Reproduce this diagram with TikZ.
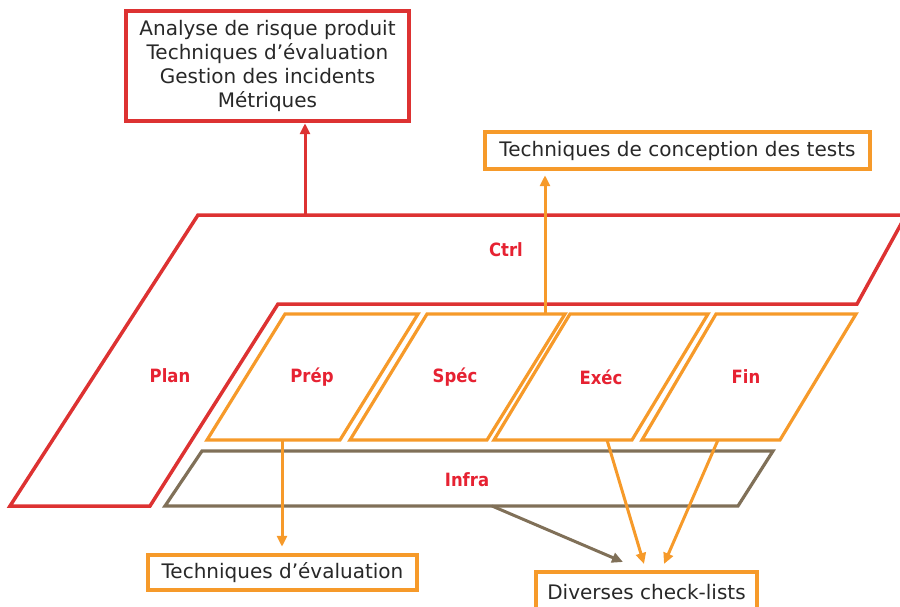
\documentclass[tikz,border=0pt]{standalone}
\usepackage{fontspec}
\setmainfont{DejaVu Sans}
\newfontfamily\lblfont{DejaVu Sans Condensed}
\usetikzlibrary{arrows.meta}
\definecolor{cred}{RGB}{221,50,50}
\definecolor{corange}{RGB}{246,154,42}
\definecolor{cbrown}{RGB}{128,112,88}
\definecolor{ctext}{RGB}{40,40,40}
\definecolor{clabel}{RGB}{230,34,50}
\tikzset{
  redshape/.style={draw=cred, line width=3.5pt, line join=miter},
  orshape/.style={draw=corange, line width=3.2pt, line join=miter},
  brshape/.style={draw=cbrown, line width=3.2pt, line join=miter},
  lbl/.style={text=clabel, font=\lblfont\bfseries\fontsize{18.3}{20}\selectfont, inner sep=0pt},
  infobox/.style={draw, line width=4.5pt, fill=white, text=ctext,
    font=\fontsize{20}{24}\selectfont, align=center, inner sep=0pt},
  arr/.style={line width=3pt, -{Triangle[length=11pt,width=10pt]}},
}
\begin{document}
\begin{tikzpicture}[x=1pt,y=-1pt]
\useasboundingbox (0,0) rectangle (900,607);
\clip (0,0) rectangle (900,607);

% big red frame (Plan + Ctrl)
\draw[redshape] (198,215) -- (906,215) -- (857,304) -- (278,304) -- (150,506) -- (10,506) -- cycle;
\node[lbl] (ctrl) at (506,250) {Ctrl};
\node[lbl] (plan) at (170,376) {Plan};

% orange phases
\draw[orshape] (285,314) -- (418,314) -- (340,440) -- (207,440) -- cycle;
\draw[orshape] (427,314) -- (565,314) -- (487,440) -- (350,440) -- cycle;
\draw[orshape] (570,314) -- (708,314) -- (632,440) -- (494,440) -- cycle;
\draw[orshape] (716,314) -- (856,314) -- (780,440) -- (642,440) -- cycle;
\node[lbl] (prep) at (312,377) {Prép};
\node[lbl] (spec) at (455,377) {Spéc};
\node[lbl] (exec) at (601,377) {Exéc};
\node[lbl] (fin) at (746,377) {Fin};

% infra
\draw[brshape] (202,451) -- (773,451) -- (738,506) -- (165,506) -- cycle;
\node[lbl] (infra) at (467,480) {Infra};

% boxes
\node[infobox, draw=cred, minimum width=283pt, minimum height=110pt] (risk) at (267.5,66)
  {Analyse de risque produit\\Techniques d’évaluation\\Gestion des incidents\\Métriques};
\node[infobox, draw=corange, minimum width=385pt, minimum height=37pt] (concep) at (677.5,150.5)
  {Techniques de conception des tests};
\node[infobox, draw=corange, minimum width=269pt, minimum height=35pt] (eval) at (282.5,572.5)
  {Techniques d’évaluation};
\node[infobox, draw=corange, minimum width=221pt, minimum height=40pt] (check) at (646.5,592)
  {Diverses check-lists};

% anchor points
\coordinate (ctrltop) at (305,215);
\coordinate (spectop) at (545,314);
\coordinate (prepbot) at (282,440);
\coordinate (execbot) at (607,440);
\coordinate (finbot) at (718,440);
\coordinate (infrabot) at (492,506);
\coordinate (tgInfra) at (623,562);
\coordinate (tgExec) at (644,564);
\coordinate (tgFin) at (664,564);

% connectors
\draw[arr, cred] (ctrltop) -- (ctrltop |- risk.south);
\draw[arr, corange, shorten >=4pt] (spectop) -- (spectop |- concep.south);
\draw[arr, corange, shorten >=6pt] (prepbot) -- (prepbot |- eval.north);
\draw[arr, corange] (execbot) -- (tgExec);
\draw[arr, corange] (finbot) -- (tgFin);
\draw[arr, cbrown] (infrabot) -- (tgInfra);
\end{tikzpicture}
\end{document}
